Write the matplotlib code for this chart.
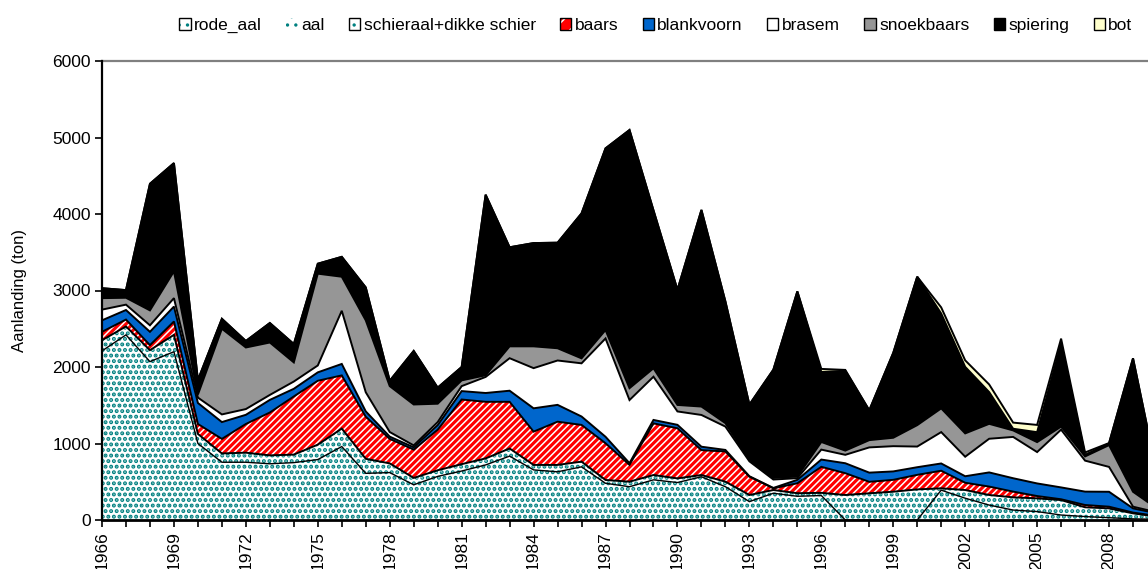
import numpy as np
import matplotlib
matplotlib.use("Agg")
import matplotlib.pyplot as plt
from matplotlib.patches import Patch

plt.rcParams['font.family'] = ['Liberation Sans', 'DejaVu Sans']
plt.rcParams['hatch.linewidth'] = 1.4

years = np.arange(1966, 2011)

rode_aal = [2210, 2420, 2070, 2200, 1000, 755, 755, 735, 750, 790, 960, 610, 620, 460, 570,
            640, 720, 835, 655, 630, 695, 480, 435, 525, 490, 565, 435, 240, 350, 310,
            320, 0, 0, 0, 0, 390, 285, 195, 130, 110, 65, 45, 30, 15, 10]
aal = [115, 85, 125, 195, 100, 90, 100, 85, 80, 170, 210, 165, 95, 65, 55,
       65, 60, 75, 40, 65, 43, 18, 41, 38, 29, 8, 41, 62, 17, 15,
       10, 307, 329, 350, 380, 9, 85, 110, 151, 151, 175, 106, 102, 52, 24]
schieraal = [25, 25, 25, 25, 25, 25, 25, 25, 25, 25, 25, 25, 25, 25, 25,
             25, 25, 25, 25, 25, 25, 25, 25, 25, 25, 15, 25, 25, 25, 25,
             25, 20, 20, 20, 20, 15, 22, 22, 15, 22, 21, 15, 20, 20, 10]
baars = [110, 90, 65, 175, 130, 190, 375, 560, 760, 835, 695, 550, 320, 370, 530,
         845, 740, 610, 435, 565, 480, 480, 220, 675, 655, 325, 395, 240, 22, 130,
         340, 285, 150, 155, 190, 230, 95, 110, 75, 30, 10, 30, 22, 10, 8]
blankvoorn = [150, 125, 175, 195, 275, 220, 120, 165, 100, 110, 150, 70, 30, 30, 60,
              110, 115, 145, 305, 220, 110, 85, 22, 45, 45, 45, 20, 5, 5, 45,
              95, 130, 120, 110, 100, 95, 85, 185, 175, 165, 155, 175, 195, 55, 35]
brasem = [140, 70, 85, 110, 70, 100, 75, 65, 95, 90, 695, 250, 60, 25, 40,
          65, 210, 425, 525, 580, 695, 1285, 825, 565, 175, 415, 305, 195, 110, 22,
          130, 110, 330, 330, 270, 410, 255, 440, 540, 410, 755, 405, 325, 22, 13]
snoekbaars = [150, 90, 195, 350, 40, 1120, 805, 685, 250, 1200, 445, 940, 600, 535, 240,
              75, 22, 155, 285, 160, 65, 110, 155, 110, 85, 110, 45, 21, 21, 21,
              100, 55, 95, 110, 280, 310, 305, 195, 85, 130, 40, 55, 285, 195, 50]
spiering = [130, 100, 1655, 1415, 190, 130, 85, 255, 240, 130, 260, 430, 70, 700, 210,
            175, 2360, 1295, 1350, 1380, 1895, 2375, 3375, 2065, 1505, 2570, 1590, 720, 1415, 2420,
            915, 1045, 390, 1110, 1940, 1240, 870, 415, 22, 130, 1090, 22, 22, 1745, 450]
bot = [0, 0, 0, 0, 0, 0, 0, 0, 0, 0, 0, 0, 0, 0, 0,
       0, 0, 0, 0, 0, 0, 0, 0, 0, 0, 0, 0, 0, 0, 0,
       40, 10, 0, 0, 0, 80, 85, 100, 80, 95, 60, 30, 5, 0, 0]

names = ["rode_aal", "aal", "schieraal+dikke schier", "baars", "blankvoorn",
         "brasem", "snoekbaars", "spiering", "bot"]
series = [rode_aal, aal, schieraal, baars, blankvoorn, brasem, snoekbaars, spiering, bot]

TEAL = "#008080"
styles = [
    dict(facecolor="white", hatchcolor=TEAL, hatch="...", hlw=2.0, border=1.0),
    dict(facecolor="white", hatchcolor=TEAL, hatch="...", hlw=2.0, border=0),
    dict(facecolor="white", hatchcolor=TEAL, hatch="...", hlw=2.0, border=1.4),
    dict(facecolor="#FF0000", hatchcolor="white", hatch="/////", hlw=1.1, border=1.4),
    dict(facecolor="#0066CC", hatchcolor=None, hatch=None, hlw=1, border=1.4),
    dict(facecolor="white", hatchcolor=None, hatch=None, hlw=1, border=1.4),
    dict(facecolor="#969696", hatchcolor=None, hatch=None, hlw=1, border=1.4),
    dict(facecolor="black", hatchcolor=None, hatch=None, hlw=1, border=1.4),
    dict(facecolor="#FFFFCC", hatchcolor=None, hatch=None, hlw=1, border=1.4),
]

W, H = 1148, 569
fig = plt.figure(figsize=(W / 100, H / 100), dpi=100)
ax = fig.add_axes([102 / W, 49 / H, 1055 / W, 459 / H])

cum = np.zeros(len(years))
tops = []
for vals, st in zip(series, styles):
    top = cum + np.asarray(vals, dtype=float)
    plt.rcParams['hatch.linewidth'] = st["hlw"]
    if st["hatch"]:
        coll = ax.fill_between(years, cum, top, facecolor=st["facecolor"],
                               edgecolor=st["hatchcolor"], hatch=st["hatch"], linewidth=0)
        try:
            coll.set_hatch_linewidth(st["hlw"])
        except Exception:
            pass
    else:
        ax.fill_between(years, cum, top, facecolor=st["facecolor"],
                        edgecolor="none", linewidth=0)
    tops.append((top.copy(), st["border"]))
    cum = top

for top, lw in tops:
    if lw > 0:
        ax.plot(years, top, color="black", lw=lw, solid_joinstyle="miter", zorder=3)

ax.set_xlim(1966, 2010)
ax.set_ylim(0, 6000)
ax.set_yticks(range(0, 6001, 1000))
ax.set_xticks(range(1966, 2010, 3))
ax.set_xticks(range(1966, 2011), minor=True)
ax.set_xticklabels([str(y) for y in range(1966, 2010, 3)], rotation=90)
ax.tick_params(axis="both", which="both", direction="out", labelsize=12.5,
               color="black", width=1.2)
ax.tick_params(axis="x", which="both", length=5, pad=3)
ax.tick_params(axis="y", which="major", length=5, pad=3)

ax.spines["right"].set_visible(False)
ax.spines["top"].set_color("#808080")
ax.spines["top"].set_linewidth(1.6)
ax.spines["left"].set_linewidth(1.6)
ax.spines["bottom"].set_linewidth(2.0)
ax.spines["left"].set_zorder(5)
ax.spines["bottom"].set_zorder(5)

ax.set_ylabel("Aanlanding (ton)", fontsize=12, labelpad=18)

plt.rcParams['hatch.linewidth'] = 1.2
handles = []
for name, st in zip(names, styles):
    if st["hatch"]:
        h1 = Patch(facecolor=st["facecolor"], edgecolor=st["hatchcolor"], hatch=st["hatch"][:2], linewidth=0)
        if name == "aal":
            handles.append(h1)
        else:
            h2 = Patch(facecolor="none", edgecolor="black", linewidth=1.0)
            handles.append((h1, h2))
    else:
        handles.append(Patch(facecolor=st["facecolor"], edgecolor="black", linewidth=1.0))

fig.legend(handles, names, loc="upper right", bbox_to_anchor=(0.997, 0.99),
           ncol=9, frameon=False, fontsize=12.5, handlelength=0.65, handleheight=0.65,
           handletextpad=0.2, columnspacing=1.4, borderaxespad=0.3)

fig.savefig("out.png", dpi=100)
